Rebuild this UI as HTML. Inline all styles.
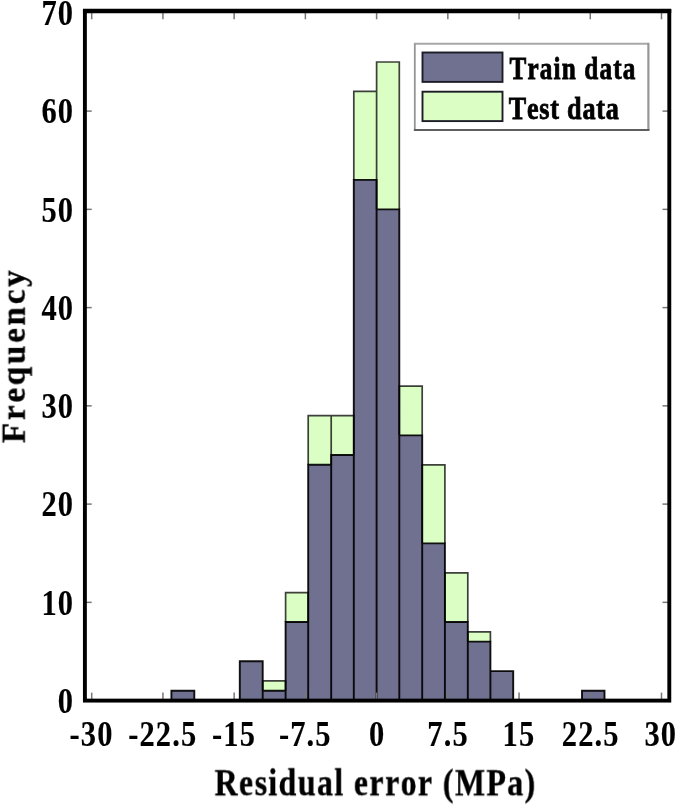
<!DOCTYPE html>
<html><head><meta charset="utf-8"><style>
html,body{margin:0;padding:0;background:#fff;}
body{width:676px;height:805px;overflow:hidden;}
svg{display:block;will-change:transform;filter:blur(0.5px);}
svg text{font-family:"Liberation Serif",serif;font-weight:bold;fill:#000;font-kerning:none;stroke:#000;stroke-width:0.6px;}
svg text.tk{stroke-width:0.15px;}
svg text.lg{stroke-width:0.8px;}
svg text.ti{stroke-width:0.35px;}
</style></head><body>
<svg width="676" height="805" viewBox="0 0 676 805">
<rect x="171.40" y="690.77" width="22.90" height="9.83" fill="#707190"/>
<rect x="239.80" y="661.30" width="22.90" height="39.30" fill="#707190"/>
<rect x="262.70" y="690.77" width="22.90" height="9.83" fill="#707190"/>
<rect x="262.70" y="680.95" width="22.90" height="9.82" fill="#dafec4"/>
<rect x="285.60" y="622.00" width="22.60" height="78.60" fill="#707190"/>
<rect x="285.60" y="592.53" width="22.60" height="29.47" fill="#dafec4"/>
<rect x="308.20" y="464.80" width="23.00" height="235.80" fill="#707190"/>
<rect x="308.20" y="415.68" width="23.00" height="49.12" fill="#dafec4"/>
<rect x="331.20" y="454.98" width="22.60" height="245.62" fill="#707190"/>
<rect x="331.20" y="415.68" width="22.60" height="39.30" fill="#dafec4"/>
<rect x="353.80" y="179.88" width="22.80" height="520.72" fill="#707190"/>
<rect x="353.80" y="91.45" width="22.80" height="88.43" fill="#dafec4"/>
<rect x="376.60" y="209.35" width="22.70" height="491.25" fill="#707190"/>
<rect x="376.60" y="61.98" width="22.70" height="147.38" fill="#dafec4"/>
<rect x="399.30" y="435.33" width="22.90" height="265.27" fill="#707190"/>
<rect x="399.30" y="386.20" width="22.90" height="49.12" fill="#dafec4"/>
<rect x="422.20" y="543.40" width="22.70" height="157.20" fill="#707190"/>
<rect x="422.20" y="464.80" width="22.70" height="78.60" fill="#dafec4"/>
<rect x="444.90" y="622.00" width="22.90" height="78.60" fill="#707190"/>
<rect x="444.90" y="572.88" width="22.90" height="49.12" fill="#dafec4"/>
<rect x="467.80" y="641.65" width="22.60" height="58.95" fill="#707190"/>
<rect x="467.80" y="631.83" width="22.60" height="9.82" fill="#dafec4"/>
<rect x="490.40" y="671.12" width="22.80" height="29.48" fill="#707190"/>
<rect x="582.00" y="690.77" width="22.50" height="9.83" fill="#707190"/>
<path d="M171.40 700.60V690.77H194.30V700.60M239.80 700.60V661.30H262.70V700.60M262.70 700.60V690.77H285.60V700.60M285.60 700.60V622.00H308.20V700.60M308.20 700.60V464.80H331.20V700.60M331.20 700.60V454.98H353.80V700.60M353.80 700.60V179.88H376.60V700.60M376.60 700.60V209.35H399.30V700.60M399.30 700.60V435.33H422.20V700.60M422.20 700.60V543.40H444.90V700.60M444.90 700.60V622.00H467.80V700.60M467.80 700.60V641.65H490.40V700.60M490.40 700.60V671.12H513.20V700.60M582.00 700.60V690.77H604.50V700.60" fill="none" stroke="#000" stroke-opacity="0.92" stroke-width="1.9"/>
<path d="M262.70 690.77V680.95H285.60V690.77M285.60 622.00V592.53H308.20V622.00M308.20 464.80V415.68H331.20V464.80M331.20 454.98V415.68H353.80V454.98M353.80 179.88V91.45H376.60V179.88M376.60 209.35V61.98H399.30V209.35M399.30 435.33V386.20H422.20V435.33M422.20 543.40V464.80H444.90V543.40M444.90 622.00V572.88H467.80V622.00M467.80 641.65V631.83H490.40V641.65" fill="none" stroke="#000" stroke-opacity="0.75" stroke-width="1.7"/>
<line x1="91.70" y1="700.6" x2="91.70" y2="692.6" stroke="#777777" stroke-width="1.5"/>
<line x1="91.70" y1="11.3" x2="91.70" y2="19.3" stroke="#777777" stroke-width="1.5"/>
<line x1="162.92" y1="700.6" x2="162.92" y2="692.6" stroke="#777777" stroke-width="1.5"/>
<line x1="162.92" y1="11.3" x2="162.92" y2="19.3" stroke="#777777" stroke-width="1.5"/>
<line x1="234.15" y1="700.6" x2="234.15" y2="692.6" stroke="#777777" stroke-width="1.5"/>
<line x1="234.15" y1="11.3" x2="234.15" y2="19.3" stroke="#777777" stroke-width="1.5"/>
<line x1="305.37" y1="700.6" x2="305.37" y2="692.6" stroke="#777777" stroke-width="1.5"/>
<line x1="305.37" y1="11.3" x2="305.37" y2="19.3" stroke="#777777" stroke-width="1.5"/>
<line x1="376.60" y1="700.6" x2="376.60" y2="692.6" stroke="#777777" stroke-width="1.5"/>
<line x1="376.60" y1="11.3" x2="376.60" y2="19.3" stroke="#777777" stroke-width="1.5"/>
<line x1="447.83" y1="700.6" x2="447.83" y2="692.6" stroke="#777777" stroke-width="1.5"/>
<line x1="447.83" y1="11.3" x2="447.83" y2="19.3" stroke="#777777" stroke-width="1.5"/>
<line x1="519.05" y1="700.6" x2="519.05" y2="692.6" stroke="#777777" stroke-width="1.5"/>
<line x1="519.05" y1="11.3" x2="519.05" y2="19.3" stroke="#777777" stroke-width="1.5"/>
<line x1="590.28" y1="700.6" x2="590.28" y2="692.6" stroke="#777777" stroke-width="1.5"/>
<line x1="590.28" y1="11.3" x2="590.28" y2="19.3" stroke="#777777" stroke-width="1.5"/>
<line x1="661.50" y1="700.6" x2="661.50" y2="692.6" stroke="#777777" stroke-width="1.5"/>
<line x1="661.50" y1="11.3" x2="661.50" y2="19.3" stroke="#777777" stroke-width="1.5"/>
<line x1="84.9" y1="602.35" x2="91.7" y2="602.35" stroke="#777777" stroke-width="1.5"/>
<line x1="669.3" y1="602.35" x2="662.5" y2="602.35" stroke="#777777" stroke-width="1.5"/>
<line x1="84.9" y1="504.10" x2="91.7" y2="504.10" stroke="#777777" stroke-width="1.5"/>
<line x1="669.3" y1="504.10" x2="662.5" y2="504.10" stroke="#777777" stroke-width="1.5"/>
<line x1="84.9" y1="405.85" x2="91.7" y2="405.85" stroke="#777777" stroke-width="1.5"/>
<line x1="669.3" y1="405.85" x2="662.5" y2="405.85" stroke="#777777" stroke-width="1.5"/>
<line x1="84.9" y1="307.60" x2="91.7" y2="307.60" stroke="#777777" stroke-width="1.5"/>
<line x1="669.3" y1="307.60" x2="662.5" y2="307.60" stroke="#777777" stroke-width="1.5"/>
<line x1="84.9" y1="209.35" x2="91.7" y2="209.35" stroke="#777777" stroke-width="1.5"/>
<line x1="669.3" y1="209.35" x2="662.5" y2="209.35" stroke="#777777" stroke-width="1.5"/>
<line x1="84.9" y1="111.10" x2="91.7" y2="111.10" stroke="#777777" stroke-width="1.5"/>
<line x1="669.3" y1="111.10" x2="662.5" y2="111.10" stroke="#777777" stroke-width="1.5"/>
<rect x="84.9" y="11.3" width="584.40" height="689.30" fill="none" stroke="#000" stroke-width="3.9"/>
<line x1="82.95" y1="10.8" x2="671.25" y2="10.8" stroke="#000" stroke-width="4.3"/>
<rect x="414.8" y="43.8" width="233.6" height="86.2" fill="#fff"/>
<line x1="413.90000000000003" y1="43.8" x2="648.4" y2="43.8" stroke="#a8a8a8" stroke-width="2"/>
<line x1="414.8" y1="43.8" x2="414.8" y2="130.0" stroke="#959595" stroke-width="1.8"/>
<line x1="648.4" y1="42.8" x2="648.4" y2="130.0" stroke="#969696" stroke-width="2.2"/>
<line x1="413.90000000000003" y1="130.0" x2="649.5" y2="130.0" stroke="#5e5e5e" stroke-width="2.2"/>
<rect x="422.5" y="52.5" width="80" height="29.4" fill="#707190" stroke="#1c1c26" stroke-width="1.9"/>
<rect x="422.5" y="91.7" width="80" height="29.4" fill="#dafec4" stroke="#1c1c26" stroke-width="1.9"/>
<text transform="translate(509.40,79.30) scale(0.8000,1)" font-size="31.5" letter-spacing="1.47" class="lg">Train data</text>
<text transform="translate(508.70,119.00) scale(0.8300,1)" font-size="31.5" letter-spacing="0.95" class="lg">Test data</text>
<text transform="translate(57.73,712.80) scale(0.8700,1)" font-size="35" letter-spacing="1.30" class="tk">0</text>
<text transform="translate(41.38,614.55) scale(0.8700,1)" font-size="35" letter-spacing="1.30" class="tk">10</text>
<text transform="translate(41.38,516.30) scale(0.8700,1)" font-size="35" letter-spacing="1.30" class="tk">20</text>
<text transform="translate(41.38,418.05) scale(0.8700,1)" font-size="35" letter-spacing="1.30" class="tk">30</text>
<text transform="translate(41.38,319.80) scale(0.8700,1)" font-size="35" letter-spacing="1.30" class="tk">40</text>
<text transform="translate(41.38,221.55) scale(0.8700,1)" font-size="35" letter-spacing="1.30" class="tk">50</text>
<text transform="translate(41.38,123.30) scale(0.8700,1)" font-size="35" letter-spacing="1.30" class="tk">60</text>
<text transform="translate(41.38,25.05) scale(0.8700,1)" font-size="35" letter-spacing="1.30" class="tk">70</text>
<text transform="translate(69.60,746.10) scale(0.8700,1)" font-size="35" letter-spacing="1.30" class="tk">-30</text>
<text transform="translate(128.25,746.10) scale(0.8700,1)" font-size="35" letter-spacing="1.30" class="tk">-22.5</text>
<text transform="translate(212.02,746.10) scale(0.8700,1)" font-size="35" letter-spacing="1.30" class="tk">-15</text>
<text transform="translate(278.88,746.10) scale(0.8700,1)" font-size="35" letter-spacing="1.30" class="tk">-7.5</text>
<text transform="translate(368.99,746.10) scale(0.8700,1)" font-size="35" letter-spacing="1.30" class="tk">0</text>
<text transform="translate(427.35,746.10) scale(0.8700,1)" font-size="35" letter-spacing="1.30" class="tk">7.5</text>
<text transform="translate(502.60,746.10) scale(0.8700,1)" font-size="35" letter-spacing="1.30" class="tk">15</text>
<text transform="translate(561.85,746.10) scale(0.8700,1)" font-size="35" letter-spacing="1.30" class="tk">22.5</text>
<text transform="translate(644.52,746.10) scale(0.8700,1)" font-size="35" letter-spacing="1.30" class="tk">30</text>
<text transform="translate(214.59,795.30) scale(0.8390,1)" font-size="38" letter-spacing="1.68" class="ti">Residual error (MPa)</text>
<g transform="translate(24.7,443.1) rotate(-90)"><text transform="translate(0.00,0.00) scale(0.9600,1)" font-size="34.5" letter-spacing="2.88" class="ti">Frequency</text></g>
</svg>
</body></html>
